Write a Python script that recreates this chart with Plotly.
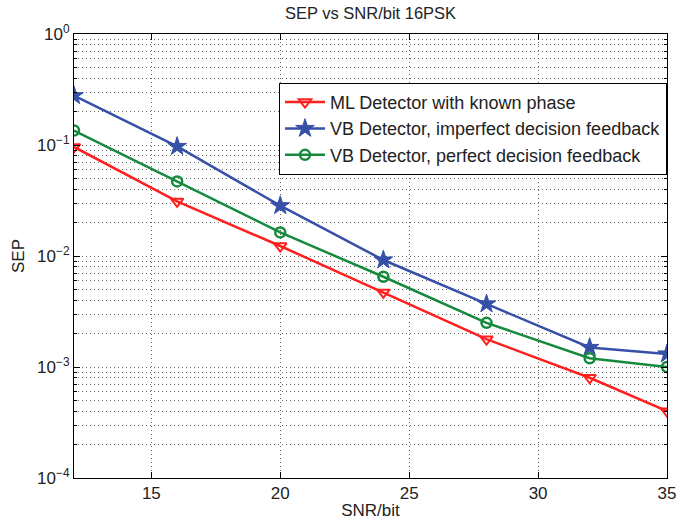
import plotly.graph_objects as go

snr = [12, 16, 20, 24, 28, 32, 35]
ml_known = [0.096, 0.031, 0.0123, 0.0047, 0.00178, 0.0008, 0.0004]
vb_imperfect = [0.278, 0.097, 0.0284, 0.0092, 0.0037, 0.0015, 0.00131]
vb_perfect = [0.135, 0.047, 0.0163, 0.0065, 0.0025, 0.0012, 0.001]

names = ["ML Detector with known phase",
         "VB Detector, imperfect decision feedback",
         "VB Detector, perfect decision feedback"]
ytick_vals = [1e-4, 1e-3, 1e-2, 1e-1, 1]
ytick_text = ["10<sup>−4</sup>", "10<sup>−3</sup>", "10<sup>−2</sup>", "10<sup>−1</sup>", "10<sup>0</sup>"]
xtick_vals = [15, 20, 25, 30, 35]

FONT = "Liberation Sans, Arial, Helvetica, sans-serif"
TXT = "#222222"
GRID = "#666666"
DOT = "1px,3px"

fig = go.Figure()
fig.add_trace(go.Scatter(x=snr, y=ml_known, name=names[0], mode="lines+markers",
                         line=dict(color="#ff1f1f", width=2.5),
                         marker=dict(symbol="triangle-down-open", size=11, color="#ff1f1f",
                                     line=dict(color="#ff1f1f", width=2))))
fig.add_trace(go.Scatter(x=snr, y=vb_imperfect, name=names[1], mode="lines+markers",
                         line=dict(color="#3650a8", width=2.5),
                         marker=dict(symbol="star", size=14, color="#3650a8",
                                     line=dict(color="#3650a8", width=1))))
fig.add_trace(go.Scatter(x=snr, y=vb_perfect, name=names[2], mode="lines+markers",
                         line=dict(color="#158a3c", width=2.5),
                         marker=dict(symbol="circle-open", size=10, color="#158a3c",
                                     line=dict(color="#158a3c", width=2.5))))

fig.update_layout(
    width=691, height=520,
    margin=dict(l=74, r=24, t=34, b=42),
    paper_bgcolor="white", plot_bgcolor="white",
    title=dict(text="SEP vs SNR/bit 16PSK", x=0.5, xref="paper", xanchor="center",
               y=1 - 13 / 520, yref="container", yanchor="middle",
               font=dict(family=FONT, size=16.5, color=TXT)),
    font=dict(family=FONT, size=17, color=TXT),
    legend=dict(x=1.0, y=0.89, xanchor="right", yanchor="top",
                bordercolor="black", borderwidth=1, bgcolor="white",
                font=dict(family=FONT, size=18, color=TXT),
                tracegroupgap=0, itemwidth=40),
    showlegend=True,
)
fig.update_xaxes(range=[12, 35], tickvals=xtick_vals, ticks="inside", ticklen=6,
                 tickcolor="black", automargin=False,
                 showline=True, linecolor="black", linewidth=1, mirror="ticks",
                 showgrid=True, gridcolor=GRID, griddash=DOT, gridwidth=1,
                 zeroline=False, title=dict(text="SNR/bit", standoff=2,
                                            font=dict(family=FONT, size=17, color=TXT)),
                 tickfont=dict(family=FONT, size=17, color=TXT))
fig.update_yaxes(type="log", range=[-4, 0], tickvals=ytick_vals, ticktext=ytick_text,
                 ticks="inside", ticklen=6, tickcolor="black", automargin=False,
                 showline=True, linecolor="black", linewidth=1, mirror="ticks",
                 showgrid=True, gridcolor=GRID, griddash=DOT, gridwidth=1,
                 minor=dict(dtick="D1", showgrid=True, gridcolor=GRID, griddash=DOT,
                            ticks="inside", ticklen=3, tickcolor="black"),
                 zeroline=False, title=dict(text="SEP", standoff=8,
                                            font=dict(family=FONT, size=17, color=TXT)),
                 tickfont=dict(family=FONT, size=17, color=TXT))
fig.write_html("out.html", config={"displayModeBar": False},
               post_script="document.body.style.margin='0';")
